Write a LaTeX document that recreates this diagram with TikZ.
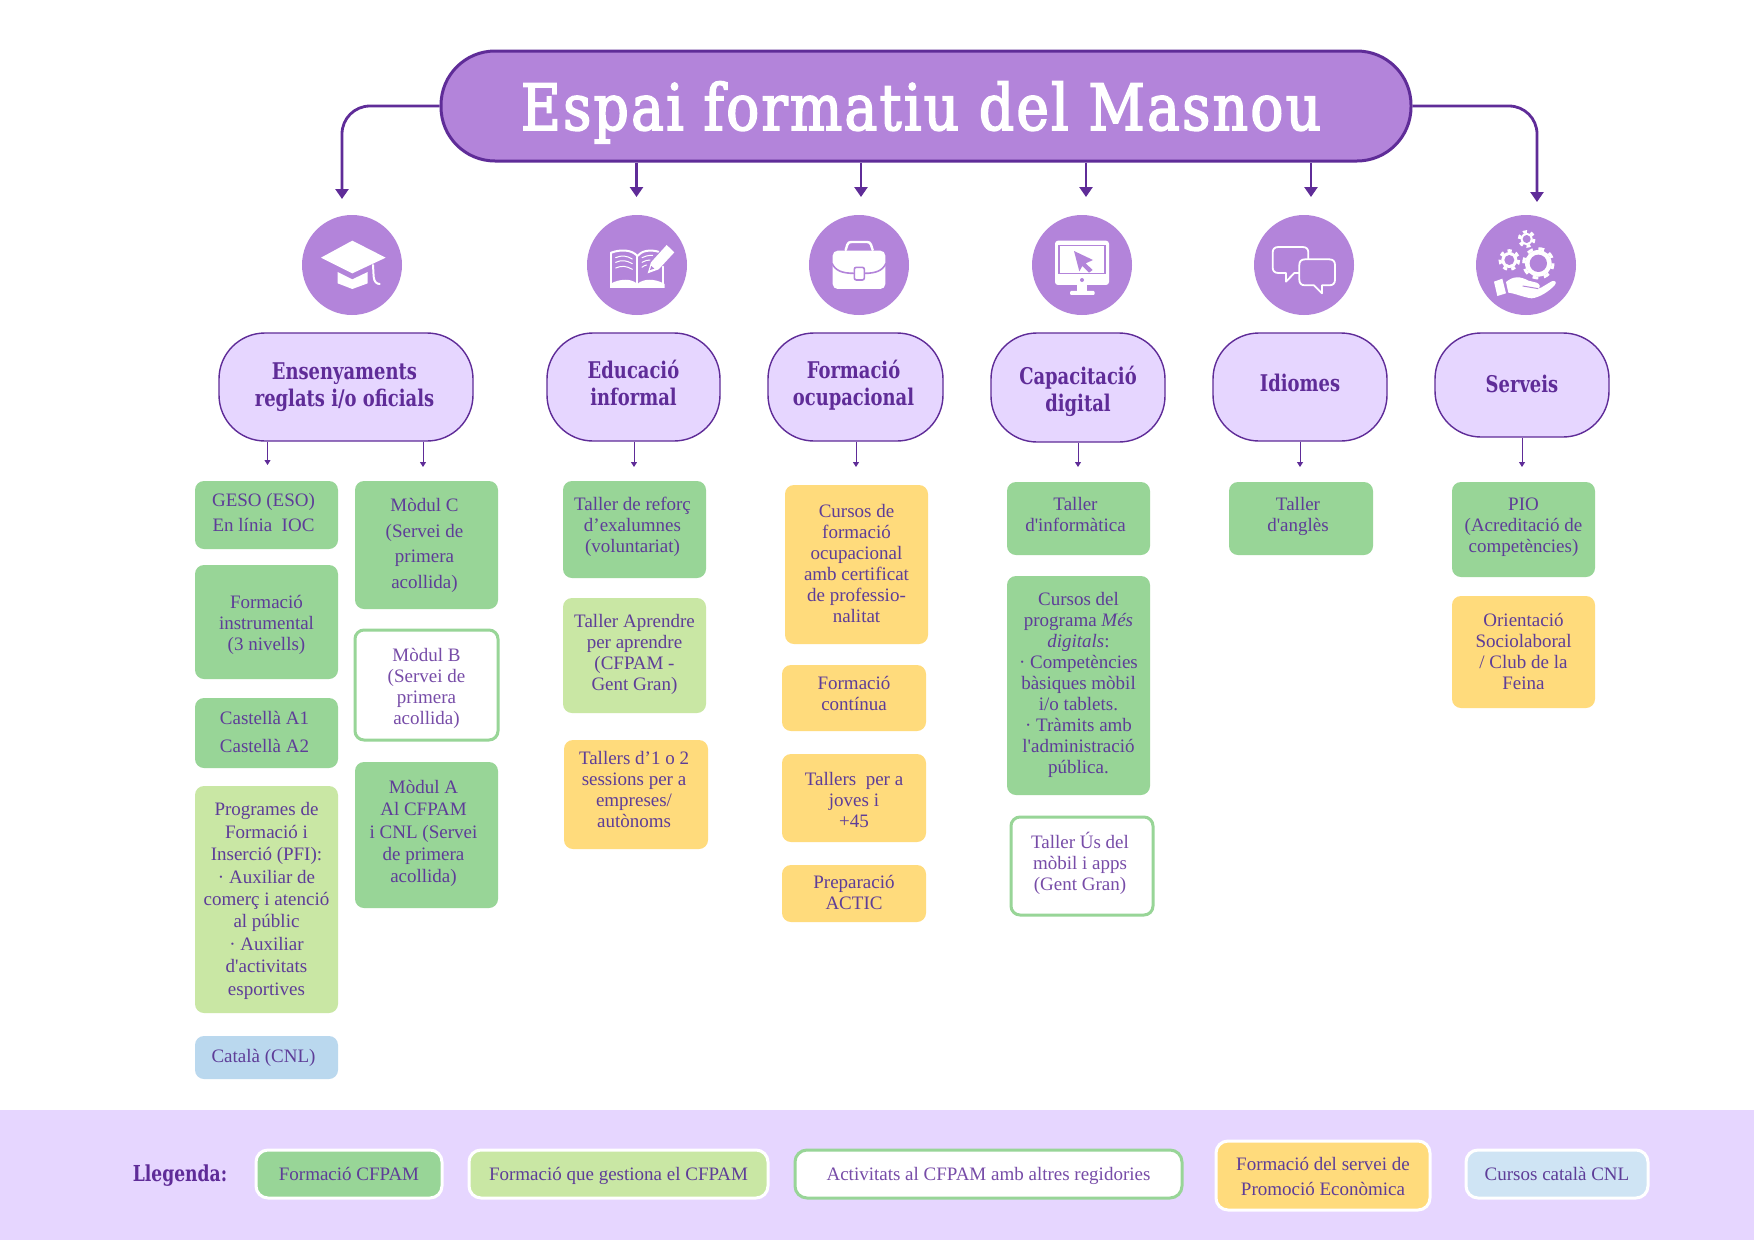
\documentclass[tikz,border=0pt]{standalone}
\usepackage{fontspec}
\setmainfont[Ligatures=TeXOff]{Liberation Serif}
\newfontfamily\headf[FakeStretch=0.78]{DejaVu Serif}
\newfontfamily\titlef[FakeStretch=0.86,FakeBold=2.5,LetterSpace=3.5]{DejaVu Serif}
\usetikzlibrary{arrows.meta}
\definecolor{tpurple}{HTML}{B384DA}
\definecolor{lilac}{HTML}{E6D6FF}
\definecolor{dpurple}{HTML}{5F2C98}
\definecolor{txt}{HTML}{5E3D98}
\definecolor{gfull}{HTML}{98D597}
\definecolor{glight}{HTML}{C9E7A4}
\definecolor{yell}{HTML}{FFDB7C}
\definecolor{bluec}{HTML}{BAD8EE}
\definecolor{bluel}{HTML}{CFE4F4}
\tikzset{
  boxbase/.style={rectangle,rounded corners=9pt,inner sep=0pt,text=txt},
  gbox/.style={boxbase,fill=gfull},
  lbox/.style={boxbase,fill=glight},
  ybox/.style={boxbase,fill=yell},
  cbox/.style={boxbase,fill=bluec},
  wbox/.style={boxbase,fill=white,draw=gfull,line width=3pt,text=dpurple!85!white},
  leg/.style={boxbase,rounded corners=12pt,draw=white,line width=3pt},
  pill/.style={rectangle,rounded corners=46pt,fill=lilac,draw=dpurple,line width=1.4pt,inner sep=0pt,text=dpurple},
  titlepill/.style={rectangle,rounded corners=54pt,fill=tpurple,draw=dpurple,line width=3pt,inner sep=0pt,text=white},
  circ/.style={circle,fill=tpurple,minimum size=100pt,inner sep=0pt},
  bigarrow/.style={draw=dpurple,line width=2.8pt,-{Triangle[length=10pt,width=13pt]}},
  smallarrow/.style={draw=dpurple,line width=1pt,-{Triangle[length=5pt,width=6pt]}},
  iconw/.style={draw=white,line width=2pt,line join=round,line cap=round},
  iconf/.style={fill=white},
  iconp/.style={fill=tpurple},
}
% text placed in a box: dx, dy, line spacing, lines
\newcommand{\tl}[4]{\raisebox{\dimexpr-#2pt-5pt\relax}[0pt][0pt]{\makebox[0pt]{\kern#1pt\kern#1pt\parbox[c]{520pt}{\centering\fontsize{19}{#3}\selectfont #4\par}}}}
\newcommand{\hl}[4]{\raisebox{\dimexpr-#2pt-6pt\relax}[0pt][0pt]{\makebox[0pt]{\kern#1pt\kern#1pt\parbox[c]{320pt}{\centering\headf\bfseries\fontsize{23}{#3}\selectfont #4\par}}}}
\newcommand{\bx}[7]{\node[#2,minimum width={(#5)-(#3)},minimum height={(#6)-(#4)}] (#1) at ({((#3)+(#5))/2},{((#4)+(#6))/2}) {#7};}
\newcommand{\gearfig}[5]{%
  \pgfmathsetmacro\dashl{2*pi*(#3)/3/(2*(#5))}%
  \fill[white] (#1,#2) circle[radius={(#3)-4}];
  \draw[white,line width=3pt,dash pattern=on \dashl pt off \dashl pt] (#1,#2) circle[radius=#3];
  \fill[tpurple] (#1,#2) circle[radius=#4];}
\begin{document}
\begin{tikzpicture}[x=1pt,y=-1pt]
\path[use as bounding box,fill=white] (0,0) rectangle (1754,1240);
\fill[lilac] (0,1110) rectangle (1754,1240);

% title
\bx{title}{titlepill}{441}{51}{1411}{161}{\raisebox{-24pt}[0pt][0pt]{\makebox[0pt]{\kern-5pt\kern-5pt\titlef\fontsize{64}{70}\selectfont\color{white} Espai formatiu del Masnou}}}

% icon discs
\node[circ] (c1) at (352,265) {};
\node[circ] (c2) at (637,265) {};
\node[circ] (c3) at (859,265) {};
\node[circ] (c4) at (1082,265) {};
\node[circ] (c5) at (1304,265) {};
\node[circ] (c6) at (1526,265) {};

% cap
\begin{scope}[shift={(295,210)},x=0.3333pt,y=-0.3333pt]
\fill[white] (78,143) -- (172,92) -- (272,143) -- (172,190) -- cycle;
\fill[white] (128,186) -- (172,208) -- (218,186) -- (218,220) -- (172,237) -- (128,220) -- cycle;
\draw[iconw] (234,165) -- (236,200) .. controls (237,215) and (245,222) .. (254,222);
\end{scope}
% book
\begin{scope}[shift={(580,210)},x=0.3333pt,y=-0.3333pt]
\draw[iconw] (94,128) .. controls (120,118) and (155,118) .. (172,138) .. controls (185,122) and (210,118) .. (235,125);
\draw[iconw] (94,128) -- (94,228) -- (250,228) -- (250,170);
\draw[iconw] (172,138) -- (172,228);
\fill[white] (90,222) .. controls (120,205) and (155,205) .. (172,222) .. controls (190,205) and (225,205) .. (254,222) -- (254,234) -- (90,234) -- cycle;
\draw[iconw,line width=1pt] (107,143) .. controls (125,135) and (140,137) .. (157,147);
\draw[iconw,line width=1pt] (107,157) .. controls (125,149) and (140,151) .. (157,161);
\draw[iconw,line width=1pt] (107,174) .. controls (125,166) and (140,168) .. (157,178);
\draw[iconw,line width=1pt] (186,143) .. controls (195,138) and (205,136) .. (218,136);
\draw[iconw,line width=1pt] (186,157) .. controls (195,152) and (202,150) .. (210,150);
\draw[iconw,line width=1pt] (186,172) .. controls (190,168) and (195,166) .. (200,165);
\fill[white] (203,190) -- (213,157) -- (260,105) -- (283,127) -- (236,178) -- cycle;
\fill[tpurple] (210,180) -- (214,168) -- (223,176) -- cycle;
\end{scope}
% briefcase
\begin{scope}[shift={(802,210)},x=0.3333pt,y=-0.3333pt]
\draw[iconw,line width=2.4pt] (131,120) -- (136,104) .. controls (138,98) and (142,96) .. (148,96) -- (195,96) .. controls (201,96) and (205,98) .. (207,104) -- (212,120);
\fill[white,rounded corners=5pt] (92,122) rectangle (250,237);
\draw[draw=tpurple,line width=1.6pt] (90,160) .. controls (100,182) and (120,190) .. (157,190);
\draw[draw=tpurple,line width=1.6pt] (252,160) .. controls (242,182) and (222,190) .. (187,190);
\filldraw[fill=white,draw=tpurple,line width=1.6pt,rounded corners=2pt] (157,172) rectangle (187,210);
\end{scope}
% monitor
\begin{scope}[shift={(1024,210)},x=0.3333pt,y=-0.3333pt]
\fill[white,rounded corners=3pt] (93,92) rectangle (255,225);
\fill[white] (160,225) rectangle (190,245);
\fill[white,rounded corners=1pt] (138,243) rectangle (212,255);
\draw[draw=tpurple,line width=1.4pt] (105,107) rectangle (243,190);
\fill[tpurple] (150,123) -- (207,150) -- (185,160) -- (206,180) -- (195,188) -- (175,168) -- (166,184) -- cycle;
\fill[tpurple] (174,210) circle[radius=6];
\end{scope}
% speech bubbles
\begin{scope}[shift={(1246,210)},x=0.3333pt,y=-0.3333pt]
\draw[iconw,line width=1.8pt] (97,111) -- (170,111) .. controls (182,111) and (187,118) .. (187,128) -- (187,172) .. controls (187,182) and (182,189) .. (170,189) -- (145,189) -- (120,215) -- (120,189) -- (97,189) .. controls (85,189) and (80,182) .. (80,172) -- (80,128) .. controls (80,118) and (85,111) .. (97,111) -- cycle;
\filldraw[draw=white,line width=1.8pt,line join=round,fill=tpurple] (177,148) -- (250,148) .. controls (262,148) and (267,155) .. (267,165) -- (267,209) .. controls (267,219) and (262,226) .. (250,226) -- (228,226) -- (228,250) -- (204,226) -- (177,226) .. controls (165,226) and (160,219) .. (160,209) -- (160,165) .. controls (160,155) and (165,148) .. (177,148) -- cycle;
\end{scope}
% gears and hand
\begin{scope}[shift={(1470,210)},x=0.3333pt,y=-0.3333pt]
\gearfig{205}{160}{44}{26}{8}
\gearfig{118}{150}{28}{15}{7}
\gearfig{170}{87}{22}{12}{6}
\fill[white] (72,215) -- (97,206) -- (108,250) -- (82,258) -- cycle;
\fill[white] (108,216) .. controls (130,198) and (150,198) .. (175,212) -- (200,218) .. controls (210,222) and (212,230) .. (205,236) -- (215,232) -- (245,214) .. controls (255,210) and (262,216) .. (254,226) .. controls (235,245) and (210,262) .. (185,265) .. controls (160,262) and (135,250) .. (115,248) -- cycle;
\draw[draw=tpurple,line width=1pt] (158,228) -- (205,236);
\end{scope}

% category pills
\bx{p1}{pill}{219}{333}{473}{441}{\hl{-1.5}{-3}{27}{Ensenyaments\\reglats i/o oficials}}
\bx{p2}{pill}{547}{333}{720}{441}{\hl{0}{-7.5}{27}{Educació\\informal}}
\bx{p3}{pill}{768}{333}{943}{441}{\hl{-2}{-5}{27}{Formació\\ocupacional}}
\bx{p4}{pill}{991}{333}{1165}{442}{\hl{0}{0}{27}{Capacitació\\digital}}
\bx{p5}{pill}{1213}{333}{1387}{441}{\hl{0}{-7.5}{27}{Idiomes}}
\bx{p6}{pill}{1435}{333}{1609}{437}{\hl{0}{-5}{27}{Serveis}}

% column 1
\bx{b1}{gbox}{195}{481}{338}{549}{\tl{-3}{-5.5}{25}{GESO (ESO)\\En línia\ \ IOC}}
\bx{b2}{gbox}{195}{565}{338}{679}{\tl{0}{0}{21}{Formació\\instrumental\\(3 nivells)}}
\bx{b3}{gbox}{195}{698}{338}{768}{\tl{-2}{-4}{28}{Castellà A1\\Castellà A2}}
\bx{b4}{lbox}{195}{786}{338}{1013}{\tl{0}{-1}{22.4}{Programes de\\Formació i\\Inserció (PFI):\\· Auxiliar de\\comerç i atenció\\al públic\\· Auxiliar\\d'activitats\\esportives}}
\bx{b5}{cbox}{195}{1036}{338}{1079}{\tl{-3}{-2}{21}{Català (CNL)}}
% column 2
\bx{b6}{gbox}{355}{481}{498}{609}{\tl{-2}{-2}{25.4}{Mòdul C\\(Servei de\\primera\\acollida)}}
\bx{b7}{wbox}{355}{630}{498}{740}{\tl{0}{1}{21}{Mòdul B\\(Servei de\\primera\\acollida)}}
\bx{b8}{gbox}{355}{762}{498}{908}{\tl{-3}{-4}{22.4}{Mòdul A\\Al CFPAM\\i CNL (Servei\\de primera\\acollida)}}
% column 3
\bx{b9}{gbox}{563}{481}{706}{578}{\tl{-2}{-5}{21}{Taller de reforç\\d’exalumnes\\(voluntariat)}}
\bx{b10}{lbox}{563}{598}{706}{713}{\tl{0}{-4}{21}{Taller Aprendre\\per aprendre\\(CFPAM -\\Gent Gran)}}
\bx{b11}{ybox}{564}{740}{708}{849}{\tl{-2}{-8}{21}{Tallers d’1 o 2\\sessions per a\\empreses/\\autònoms}}
% column 4
\bx{b12}{ybox}{785}{485}{928}{644}{\tl{0}{-4}{21}{Cursos de\\formació\\ocupacional\\amb certificat\\de professio-\\nalitat}}
\bx{b13}{ybox}{782}{665}{926}{731}{\tl{0}{-7}{21}{Formació\\contínua}}
\bx{b14}{ybox}{782}{754}{926}{842}{\tl{0}{-1}{21}{Tallers\ \ per a\\joves i\\+45}}
\bx{b15}{ybox}{782}{865}{926}{922}{\tl{0}{-3.5}{21}{Preparació\\ACTIC}}
% column 5
\bx{b16}{gbox}{1007}{482}{1150}{555}{\tl{-3}{-7}{21}{Taller\\d'informàtica}}
\bx{b17}{gbox}{1007}{576}{1150}{795}{\tl{0}{-3}{21}{Cursos del\\programa \textit{Més}\\\textit{digitals}:\\· Competències\\bàsiques mòbil\\i/o tablets.\\· Tràmits amb\\l'administració\\pública.}}
\bx{b18}{wbox}{1011}{817}{1153}{915}{\tl{-2}{-5}{21}{Taller Ús del\\mòbil i apps\\(Gent Gran)}}
% column 6
\bx{b19}{gbox}{1229}{482}{1373}{555}{\tl{-3}{-5}{21}{Taller\\d'anglès}}
% column 7
\bx{b20}{gbox}{1452}{482}{1595}{577}{\tl{0}{-5}{21}{PIO\\(Acreditació de\\competències)}}
\bx{b21}{ybox}{1452}{596}{1595}{708}{\tl{0}{-3}{21}{Orientació\\Sociolaboral\\/ Club de la\\Feina}}

% legend
\node[text=dpurple,inner sep=0pt] (llegenda) at (180,1176) {\headf\bfseries\fontsize{22}{24}\selectfont Llegenda:};
\bx{l1}{leg,fill=gfull}{256}{1150}{442}{1198}{\tl{0}{-3}{21}{Formació CFPAM}}
\bx{l2}{leg,fill=glight}{469}{1150}{768}{1198}{\tl{0}{-1}{21}{Formació que gestiona el CFPAM}}
\bx{l3}{leg,fill=white,draw=gfull,text=dpurple!85!white}{795}{1150}{1182}{1198}{\tl{0}{-1}{21}{Activitats al CFPAM amb altres regidories}}
\bx{l4}{leg,fill=yell}{1216}{1141}{1430}{1210}{\tl{0}{-2}{25}{Formació del servei de\\Promoció Econòmica}}
\bx{l5}{leg,fill=bluel}{1466}{1150}{1648}{1198}{\tl{0}{-3}{21}{Cursos català CNL}}

% connectors: free ends
\coordinate (a1) at (342,199);
\coordinate (a2) at (636.5,197);
\coordinate (a3) at (861,197);
\coordinate (a4) at (1086,197);
\coordinate (a5) at (1311,197);
\coordinate (a6) at (1537,202);
\draw[bigarrow,rounded corners=28pt] (title.west) -| (a1);
\draw[bigarrow] (a2 |- title.south) -- (a2);
\draw[bigarrow] (a3 |- title.south) -- (a3);
\draw[bigarrow] (a4 |- title.south) -- (a4);
\draw[bigarrow] (a5 |- title.south) -- (a5);
\draw[bigarrow,rounded corners=28pt] (title.east) -| (a6);

\coordinate (s1) at (267.5,465);
\coordinate (s2) at (423,467);
\coordinate (s3) at (634,467);
\coordinate (s4) at (856,467);
\coordinate (s5) at (1078,467);
\coordinate (s6) at (1300,467);
\coordinate (s7) at (1522,467);
\draw[smallarrow] (s1 |- p1.south) -- (s1);
\draw[smallarrow] (s2 |- p1.south) -- (s2);
\draw[smallarrow] (s3 |- p2.south) -- (s3);
\draw[smallarrow] (s4 |- p3.south) -- (s4);
\draw[smallarrow] (s5 |- p4.south) -- (s5);
\draw[smallarrow] (s6 |- p5.south) -- (s6);
\draw[smallarrow] (s7 |- p6.south) -- (s7);
\end{tikzpicture}
\end{document}
